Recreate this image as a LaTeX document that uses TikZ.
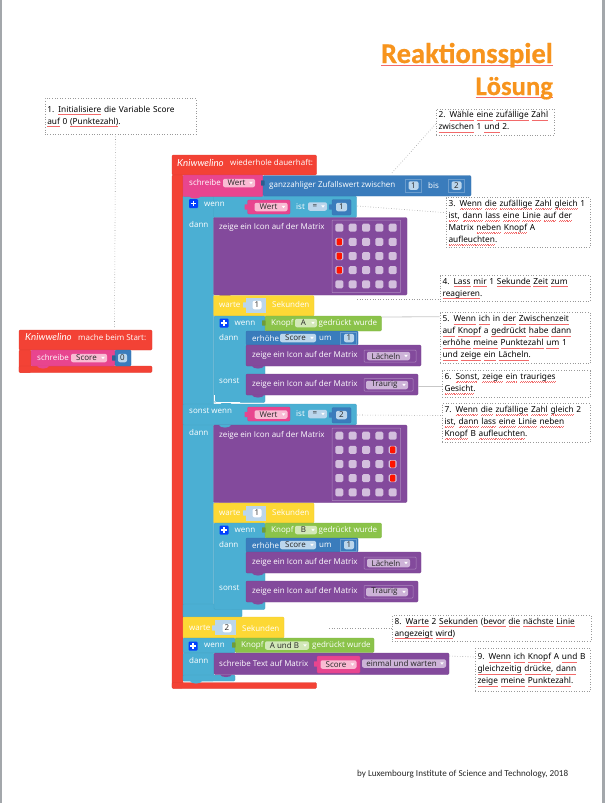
\documentclass[tikz,border=0pt]{standalone}
\usepackage{fontspec}
\usetikzlibrary{fit}
\setmainfont{Noto Sans}
\newfontfamily\carl{Carlito}
\newfontfamily\carlb[FakeBold=0.6]{Carlito Bold}
\newfontfamily\blockfont{Open Sans}
\newfontfamily\logofont{Lato}
\definecolor{redb}{HTML}{F34235}
\definecolor{pinkb}{HTML}{E8458F}
\definecolor{blueb}{HTML}{3A7CBC}
\definecolor{cyanb}{HTML}{4BAFD3}
\definecolor{purpb}{HTML}{834A9C}
\definecolor{yellb}{HTML}{FDD835}
\definecolor{greenb}{HTML}{8BC34A}
\definecolor{cellc}{HTML}{D3BFDD}
\definecolor{pinkp}{HTML}{F9BBD3}
\definecolor{purpp}{HTML}{CDB3D8}
\definecolor{bluep}{HTML}{BBD6EC}
\definecolor{greenp}{HTML}{D2E8B8}
\definecolor{sqred}{HTML}{F26A6A}
\definecolor{edgeg}{HTML}{A3A7AB}
\definecolor{titleo}{HTML}{F7941D}
\newcommand\wavepiece{\hbox{\vrule width .9pt height .4pt depth 0pt\raise.7pt\hbox{\vrule width .9pt height .4pt depth 0pt}}}
\newcommand\sq[1]{\bgroup\setbox0=\hbox{#1}\leavevmode\rlap{\color{sqred}\lower2.7pt\hbox to\wd0{\xleaders\wavepiece\hfill}}\box0\egroup}
\newcount\nn
\tikzset{
  blockn/.style={inner sep=0pt,rounded corners=1.2pt,line width=.4pt},
  btxt/.style={text=white,font=\blockfont\fontsize{8}{9}\selectfont,inner sep=0pt,anchor=west},
  pillbox/.style={rounded corners=2pt,inner sep=0pt,minimum height=8.5pt,text=black!85,font=\blockfont\fontsize{8}{9}\selectfont},
  notebox/.style={draw=black!40,dotted,line width=.6pt,fill=white,anchor=north west,align=left,inner xsep=2.5pt,inner ysep=0pt,
     font=\fontsize{8.3}{12}\selectfont,text=black},
  dotcon/.style={draw=black!40,dotted,line width=.6pt},
  solcon/.style={draw=black!22,line width=.8pt},
  framebox/.style={draw=white!35!purpb,line width=.5pt,rounded corners=.8pt},
  titlen/.style={anchor=base east,inner sep=0pt,text=titleo},
  logon/.style={text=white,inner sep=0pt,anchor=west,font=\logofont\itshape\fontsize{9.7}{10}\selectfont},
}
\newcommand\blk[6]{\node[blockn,fit={(#2,#3)(#4,#5)},fill=#6,draw=#6!92!black] (#1) {};}
\newcommand\bump[3]{\fill[#3] (#1,#2) .. controls (#1+1,#2+3.4) and (#1+11,#2+3.4) .. (#1+12,#2) -- cycle;}
\newcommand\socket[3]{\fill[#3,rounded corners=.5pt] (#1-3,#2-2.6) rectangle (#1+.6,#2+2.6);}
\newcommand\lbl[3]{\global\advance\nn by 1 \node[btxt,name=t\the\nn] at (#1,#2) {#3};}
\newcommand\pill[5]{\global\advance\nn by 1 \node[pillbox,fill=#1,minimum width=#4pt,name=p\the\nn] at (#2,#3) {#5};}
\newcommand\ddpill[5]{\global\advance\nn by 1 \node[pillbox,fill=#1,minimum width=#4pt,name=p\the\nn] at (#2,#3) {#5\hspace*{5pt}};
  \fill[white] (p\the\nn.east) ++(-6,-1.2) -- ++(3.6,0) -- ++(-1.8,2.4) -- cycle;}
\newcommand\plusicon[2]{\fill[blue!75!cyan,rounded corners=1pt] (#1-4.5,#2-4.5) rectangle (#1+4.5,#2+4.5);
  \draw[white,line width=1.3pt] (#1-2.8,#2) -- (#1+2.8,#2) (#1,#2-2.8) -- (#1,#2+2.8);}
\newcommand\notebx[6]{\pgfmathsetmacro\nw{#4-#2}\pgfmathsetmacro\nh{#5-#3}\node[notebox,minimum width=\nw pt,minimum height=\nh pt,text width=\nw pt-5pt] (#1) at (#2,#3) {#6};}
\newcommand\wennrow[2]{%
  \blk{wc#1}{214}{316+#1}{265}{403+#1-.5}{cyanb}
  \blk{wg#1}{265}{316+#1}{381.5}{331+#1}{greenb}
  \socket{265}{323+#1}{greenb!80!black}
  \blk{wb#1}{246}{331+#1}{358}{345+#1}{blueb}
  \blk{wp#1}{246}{345+#1}{421}{366+#1}{purpb}
  \bump{252}{366+#1}{purpb}
  \blk{wq#1}{246}{374+#1}{418}{395+#1}{purpb}
  \bump{252}{395+#1}{purpb}
  \bump{220}{403+#1-.5}{cyanb}
  \plusicon{224}{323+#1}
  \lbl{234.5}{323+#1}{wenn}
  \lbl{271}{323+#1}{Knopf}
  \ddpill{greenp}{306}{323+#1}{22}{#2}
  \lbl{318.5}{323+#1}{gedrückt wurde}
  \lbl{219}{337+#1}{dann}
  \lbl{252}{338+#1}{erhöhe}
  \ddpill{bluep}{298}{338+#1}{36}{Score}
  \lbl{319}{338+#1}{um}
  \draw[white!25!blueb,line width=.5pt] (340,332+#1) rectangle (356,344+#1);
  \pill{bluep}{349}{338+#1}{10}{1}
  \lbl{252}{355.5+#1}{zeige ein Icon auf der Matrix}
  \draw[framebox] (364,350+#1) rectangle (416,362+#1);
  \ddpill{purpp}{388.5}{356+#1}{43}{Lächeln}
  \lbl{219}{381+#1}{sonst}
  \lbl{252}{384+#1}{zeige ein Icon auf der Matrix}
  \draw[framebox] (364,378.5+#1) rectangle (413,391+#1);
  \ddpill{purpp}{387}{385+#1}{42}{Traurig}
}
\newcommand\matgrid[3]{%
  \draw[framebox] (332,#1) rectangle (400.7,#1+72.7);
  \foreach \ci/\cx in {1/339.3,2/352.7,3/366,4/379.3,5/392.7}{
    \foreach \ri in {0,1,2,3,4}{
      \pgfmathtruncatemacro\lit{(\ci==#2 && \ri>0 && \ri<4) ? 1 : 0}
      \fill[rounded corners=1.5pt,fill=cellc] (\cx-4,#3+14.15*\ri-4) rectangle (\cx+4,#3+14.15*\ri+4);
      \ifnum\lit=1
        \fill[rounded corners=1pt,fill=red!85!orange] (\cx-2.6,#3+14.15*\ri-3.5) rectangle (\cx+2.6,#3+14.15*\ri+3.5);
      \fi
    }
  }
}
\begin{document}
\begin{tikzpicture}[x=1pt,y=-1pt]
\useasboundingbox (0,0) rectangle (605,803);
\fill[edgeg] (0,0) rectangle (1.7,803);
\fill[edgeg] (601.7,0) rectangle (605,803);
% title
\node[titlen,font=\carlb\fontsize{28.6}{30}\selectfont] (ta) at (553,63) {\sq{Reaktionsspiel}};
\node[titlen,font=\carlb\fontsize{26.6}{30}\selectfont] (tb) at (553,95) {\sq{Lösung}};
% left block
\blk{lh}{19}{330}{152}{350}{redb}
\blk{ll}{19}{350}{31}{372.5}{redb}
\blk{lb}{19}{366}{152}{372.5}{redb}
\blk{lp}{31}{350}{115}{366}{pinkb}
\blk{lv}{115}{350}{131}{366}{blueb}
\socket{115}{358}{blueb!80!black}
\bump{37}{366}{pinkb}
\node[logon] (la) at (25,337) {Kniwwelino};
\lbl{78}{337.5}{mache beim Start:}
\lbl{37}{357.5}{schreibe}
\ddpill{pinkp}{89}{358}{36}{Score}
\pill{bluep}{122.5}{358}{9}{0}
% main red frame
\blk{rh}{172}{155}{316.5}{175}{redb}
\blk{rl}{172}{175}{183}{688}{redb}
\blk{rb}{172}{682.5}{316.5}{688.5}{redb}
% outer cyan
\blk{cw}{183}{196}{356.5}{217.5}{cyanb}
\blk{cl}{183}{196}{213.5}{617}{cyanb}
\blk{cx}{183}{604}{242}{617}{cyanb}
\blk{cs}{183}{404}{356.5}{425}{cyanb}
% write line
\blk{sw}{183}{175}{263}{196.5}{pinkb}
\blk{sr}{263}{175.5}{471}{196}{blueb}
\socket{264}{183}{blueb!75!black}
\bump{189}{196}{pinkb}
\node[logon] (lg) at (177,163) {Kniwwelino};
\lbl{230}{162.5}{wiederhole dauerhaft:}
\lbl{189}{182.5}{schreibe}
\ddpill{pinkp}{239}{183}{32}{Wert}
\lbl{269}{185}{ganzzahliger Zufallswert zwischen}
\draw[white!25!blueb,line width=.5pt] (405,179) rectangle (421,192);
\pill{bluep}{413.5}{185.5}{10}{1}
\lbl{428}{185}{bis}
\draw[white!25!blueb,line width=.5pt] (448,179) rectangle (464,192);
\pill{bluep}{456.5}{185.5}{10}{2}
% wenn 1
\plusicon{193.5}{203.5}
\lbl{204}{204}{wenn}
\blk{ws1}{247.5}{200}{290}{214}{pinkb}
\socket{247.5}{207}{pinkb}
\ddpill{pinkp}{271}{207}{33}{Wert}
\lbl{296}{206.5}{ist}
\ddpill{bluep}{317.5}{206.5}{19}{=}
\blk{wn1}{332}{199.5}{351}{215}{blueb}
\socket{332}{207}{blueb}
\pill{bluep}{341.5}{207}{11}{1}
\lbl{189}{224}{dann}
\blk{ic1}{213.5}{217.5}{407}{295}{purpb}
\bump{219}{295}{purpb}
\lbl{219}{227}{zeige ein Icon auf der Matrix}
\matgrid{220}{1}{227.7}
% warte 1
\blk{ye1}{213.5}{295.5}{314}{316}{yellb}
\bump{219}{316}{yellb}
\fill[bluep] (246,298) rectangle (266,313);
\socket{246}{305}{bluep}
\pill{white}{257}{305}{9}{1}
\lbl{219}{304.5}{warte}
\lbl{272}{304.5}{Sekunden}
\wennrow{0}{A}
\draw[white,line width=.8pt,rounded corners=2pt] (214.5,395) -- (214.5,402.5) -- (240,402.5);
% sonst wenn
\lbl{189}{411}{sonst wenn}
\blk{ws2}{247.5}{407}{290}{421}{pinkb}
\socket{247.5}{414.5}{pinkb}
\ddpill{pinkp}{271}{414.5}{33}{Wert}
\lbl{296}{414}{ist}
\ddpill{bluep}{317.5}{414}{19}{=}
\blk{wn2}{332}{407.5}{351}{423}{blueb}
\socket{332}{415}{blueb}
\pill{bluep}{341.5}{415}{11}{2}
\lbl{189}{432}{dann}
\blk{ic2}{213.5}{425}{407}{502.5}{purpb}
\bump{219}{502.5}{purpb}
\bump{219}{425}{cyanb}
\lbl{219}{435}{zeige ein Icon auf der Matrix}
\matgrid{428}{5}{435.7}
% warte 2
\blk{ye2}{213.5}{503}{314}{523}{yellb}
\bump{219}{523}{yellb}
\fill[bluep] (246,505.5) rectangle (266,520.5);
\socket{246}{513}{bluep}
\pill{white}{257}{513}{9}{1}
\lbl{219}{512.5}{warte}
\lbl{272}{512.5}{Sekunden}
\wennrow{207}{B}
% warte 3
\bump{189}{617}{cyanb}
\blk{ye3}{183}{617}{284}{638}{yellb}
\bump{189}{638}{yellb}
\fill[bluep] (215,620) rectangle (236,635);
\socket{215}{628}{bluep}
\pill{white}{227}{628}{9}{2}
\lbl{189}{628}{warte}
\lbl{242}{628}{Sekunden}
% last wenn
\blk{lc}{183}{638}{235}{653}{cyanb}
\blk{lcl}{183}{653}{214}{681}{cyanb}
\blk{lcm}{183}{675}{235}{681}{cyanb}
\bump{190}{681}{cyanb}
\blk{lg1}{235}{638}{374}{652.5}{greenb}
\socket{235}{645}{greenb!80!black}
\blk{lp1}{214}{653}{449}{674.5}{purpb}
\plusicon{193}{646}
\lbl{204}{645.5}{wenn}
\lbl{241}{645}{Knopf}
\ddpill{greenp}{287}{645.5}{44}{A und B}
\lbl{312}{645}{gedrückt wurde}
\lbl{189}{660}{dann}
\bump{220}{674.5}{purpb}
\lbl{219}{663}{schreibe Text auf Matrix}
\blk{lp2}{317}{656}{360}{673}{pinkb}
\socket{317}{664}{pinkb}
\ddpill{pinkp}{338.5}{664.5}{36}{Score}
\ddpill{purpp}{404}{663.5}{84}{einmal und warten}
% notes
\notebx{n1}{44.5}{98}{195.5}{134}{1. \sq{Initialisiere} die Variable Score\\\sq{auf} 0 \sq{(Punktezahl)}.}
\notebx{n2}{435.7}{109}{553.7}{134.7}{2. \sq{Wähle} \sq{eine} \sq{zufällige} \sq{Zahl}\\\sq{zwischen} 1 \sq{und} 2.}
\notebx{n3}{445.7}{197.3}{589.7}{247.3}{3. \sq{Wenn} \sq{die} \sq{zufällige} \sq{Zahl} \sq{gleich} 1\\\sq{ist}, \sq{dann} \sq{lass} \sq{eine} \sq{Linie} \sq{auf} \sq{der}\\Matrix \sq{neben} \sq{Knopf} A\\\sq{aufleuchten}.}
\notebx{n4}{439.7}{275.3}{589.7}{300.7}{4. \sq{Lass} \sq{mir} 1 \sq{Sekunde} \sq{Zeit} \sq{zum}\\\sq{reagieren}.}
\notebx{n5}{439.7}{312.3}{589.7}{363.3}{5. \sq{Wenn} \sq{ich} in \sq{der} \sq{Zwischenzeit}\\\sq{auf} \sq{Knopf} a \sq{gedrückt} \sq{habe} \sq{dann}\\\sq{erhöhe} \sq{meine} \sq{Punktezahl} \sq{um} 1\\\sq{und} \sq{zeige} \sq{ein} \sq{Lächeln}.}
\notebx{n6}{441.7}{370.3}{589.7}{396.7}{6. \sq{Sonst}, \sq{zeige} \sq{ein} \sq{trauriges}\\\sq{Gesicht}.}
\notebx{n7}{441.7}{403.3}{589.7}{441.7}{7. \sq{Wenn} \sq{die} \sq{zufällige} \sq{Zahl} \sq{gleich} 2\\\sq{ist}, \sq{dann} \sq{lass} \sq{eine} \sq{Linie} \sq{neben}\\\sq{Knopf} B \sq{aufleuchten}.}
\notebx{n8}{391.7}{615.3}{590.7}{640.7}{8. \sq{Warte} 2 \sq{Sekunden} (\sq{bevor} \sq{die} \sq{nächste} \sq{Linie}\\\sq{angezeigt} \sq{wird})}
\notebx{n9}{474.7}{648.3}{590}{691.3}{9. \sq{Wenn} \sq{ich} \sq{Knopf} A \sq{und} B\\\sq{gleichzeitig} \sq{drücke}, \sq{dann}\\\sq{zeige} \sq{meine} \sq{Punktezahl}.}
% connector ends
\coordinate (c1a) at (115.5,134);
\coordinate (c1b) at (114.5,328);
\coordinate (c2a) at (435.7,124);
\coordinate (c2b) at (391,174);
\coordinate (c3a) at (357.5,206);
\coordinate (c3b) at (445.7,212.7);
\coordinate (c4a) at (357,299);
\coordinate (c4b) at (439.7,299);
\coordinate (c5a) at (382,317);
\coordinate (c5b) at (439.7,316.7);
\coordinate (c6a) at (418,386);
\coordinate (c6b) at (441.7,386);
\coordinate (c7a) at (357,415);
\coordinate (c7b) at (441.7,415.5);
\coordinate (c8a) at (329,628);
\coordinate (c8b) at (391.7,628);
\coordinate (c9a) at (449.5,656);
\coordinate (c9b) at (474.7,657);
\draw[dotcon] (c1a) -- (c1b);
\draw[dotcon] (c2a) -- (c2b);
\draw[dotcon] (c3a) -- (c3b);
\draw[dotcon] (c4a) -- (c4b);
\draw[solcon] (c5a) -- (c5b);
\draw[solcon] (c6a) -- (c6b);
\draw[dotcon] (c7a) -- (c7b);
\draw[dotcon] (c8a) -- (c8b);
\draw[dotcon] (c9a) -- (c9b);
% footer
\node[anchor=base west,inner sep=0pt,font=\carl\fontsize{9.1}{10}\selectfont,text=black!85] (foot) at (357,776) {by Luxembourg Institute of Science and Technology, 2018};
\end{tikzpicture}
\end{document}
